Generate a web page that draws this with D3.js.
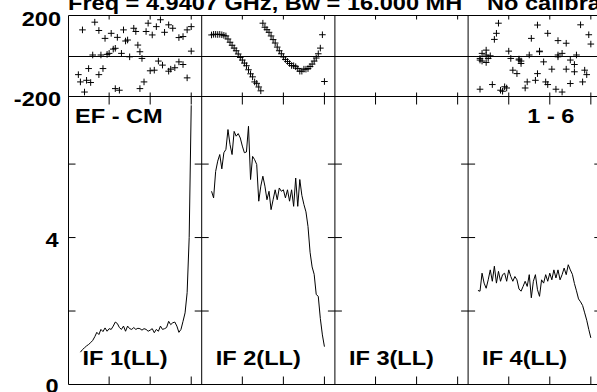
<!DOCTYPE html>
<html><head><meta charset="utf-8">
<script src="https://cdn.jsdelivr.net/npm/d3@7"></script>
<style>html,body{margin:0;padding:0;background:#fff;overflow:hidden}</style>
</head><body><svg id="c" width="597" height="392"></svg>
<script>
// ---------------- data ----------------
const titleText = "Freq = 4.9407 GHz, Bw = 16.000 MH";
const titleText2 = "No calibra";
const panelLabels = ["IF 1(LL)", "IF 2(LL)", "IF 3(LL)", "IF 4(LL)"];
const sourceLabel = "EF - CM";
const baselineLabel = "1 - 6";
const phaseTickValues = [200, -200];
const ampTickLabelValues = [4, 0];
const xTicks = [20, 40, 60];
const ampTicks = [2, 4, 6];

// amplitude spectra (channel start + values)
const amp1Start = 6;
const amp1 = [0.88,0.95,1.0,1.05,1.09,1.14,1.2,1.3,1.42,1.36,1.5,1.44,1.54,1.45,1.52,1.5,1.59,1.7,1.66,1.55,
  1.5,1.59,1.45,1.59,1.52,1.5,1.55,1.5,1.53,1.52,1.48,1.52,1.5,1.45,1.48,1.52,1.41,1.5,1.45,1.59,
  1.5,1.52,1.55,1.72,1.63,1.68,1.7,1.59,1.42,1.5,1.72,1.95,2.5,4.0,7.6];
const amp2Start = 5;
const amp2 = [5.26,5.08,5.8,6.08,6.26,5.87,6.31,6.4,6.94,6.53,6.26,6.89,6.76,6.83,6.71,6.49,6.31,6.33,7.03,5.58,
  6.21,6.12,5.99,4.99,5.4,5.67,5.4,5.03,5.26,4.76,5.03,5.3,5.03,5.35,5.26,5.3,5.08,5.3,4.99,5.3,
  4.85,5.62,4.85,5.58,5.15,4.9,4.7,4.3,3.6,3.2,3.0,2.45,2.4,1.8,1.35,1.03];
const amp3Start = 1;
const amp3 = [];
const amp4Start = 5;
const amp4 = [2.56,2.54,3.03,2.76,2.62,2.85,3.12,2.81,3.22,2.76,3.08,2.81,2.99,3.03,2.81,3.12,2.94,2.81,2.94,2.85,
  2.6,2.54,2.67,2.81,2.67,2.99,2.36,2.81,2.99,2.58,2.4,2.85,2.76,2.99,2.81,3.03,2.85,3.12,2.9,3.12,
  2.85,2.99,3.17,2.99,3.26,3.12,3.0,2.75,2.55,2.33,2.25,2.15,1.95,1.75,1.5,1.27];

// phase points: channels and phases (deg)
const ph1Ch = [7,13,15,18,21,24,27,29,28,32,33,34,38,39,41,43,45,47,49,51,54,56,58,60,60,
  12,16,19,20,22,23,26,30,35,36,5,6,9,11,10,15,17,8,23,25,35,37,40,42,44,46,49,50,52,54,56,58];
const ph1Val = [129,167,126,87,112,92,129,79,74,137,121,54,121,162,104,145,179,117,154,137,91,96,129,145,24,
  5,5,8,13,34,38,13,-4,21,-12,-92,-128,-120,-131,-62,-92,-62,-178,-161,-169,-161,-128,-73,-70,-25,-45,-75,-65,-58,-29,-42,-108];
const ph2Ch = [5,6,7,8,9,10,11,12,13,14,15,16,17,18,19,20,21,22,23,24,25,26,27,28,29,
  30,31,32,33,34,35,36,37,38,39,40,41,42,43,44,45,46,47,48,49,50,51,52,53,54,55,56,57,58,59,60];
const ph2Val = [104,107,107,106,107,105,102,99,84,68,53,39,26,10,-7,-20,-35,-48,-68,-88,-103,-128,-135,-153,-172,
  162,142,130,117,99,81,64,44,26,11,-5,-17,-27,-37,-47,-48,-53,-62,-75,-75,-65,-65,-62,-52,-40,-25,-10,11,39,105,-126];
const ph3Ch = [];
const ph3Val = [];
const ph4Ch = [15,14,13,9,7,6,7,9,10,11,20,21,25,26,26,22,24,30,31,34,35,37,39,41,44,44,46,48,48,50,52,52,53,55,57,58,59,60,
  56,50,46,43,39,38,34,33,29,28,19,17,16,12,6,6,9,25,35,44,18];
const ph4Val = [162,112,82,29,13,-12,-25,-32,-12,1,24,-12,-15,-25,-37,-70,-87,5,87,153,24,-29,112,-65,76,-4,13,63,-65,-20,-42,-78,5,154,-70,-92,105,59,
  -128,-136,-178,-164,-141,-128,-87,-120,-128,-158,-158,-174,-169,-141,-164,-20,5,-20,21,5,-152];

// ---------------- drawing ----------------
const svg = d3.select("#c");
const left = 68.5, pw = 133.2, phTop = 15.5, mid = 96.5, bottom = 384.5, W = 597;
const nP = 4;
const xs = d3.range(nP).map(i => d3.scaleLinear().domain([0.2, 65.1]).range([left + i * pw, left + (i + 1) * pw]));
const yPh = d3.scaleLinear().domain([-200, 200]).range([mid, phTop]);
const yAmp = d3.scaleLinear().domain([0, 7.84]).range([bottom, mid]);

const amps = [[amp1Start, amp1], [amp2Start, amp2], [amp3Start, amp3], [amp4Start, amp4]];
const phs = [[ph1Ch, ph1Val], [ph2Ch, ph2Val], [ph3Ch, ph3Val], [ph4Ch, ph4Val]];

const g = svg.append("g");

// frame lines
g.append("line").attr("x1", left).attr("x2", W).attr("y1", phTop).attr("y2", phTop).attr("stroke", "#000");
g.append("line").attr("x1", left).attr("x2", W).attr("y1", mid).attr("y2", mid).attr("stroke", "#000");
g.append("line").attr("x1", left).attr("x2", W).attr("y1", bottom).attr("y2", bottom).attr("stroke", "#000");
const zy = Math.floor(yPh(0)) + 0.5;
g.append("line").attr("x1", left).attr("x2", W).attr("y1", zy).attr("y2", zy).attr("stroke", "#000");
g.append("line").attr("x1", left).attr("x2", left).attr("y1", phTop).attr("y2", bottom).attr("stroke", "#000");
for (let i = 1; i <= nP; i++) {
  const x = left + i * pw;
  g.append("line").attr("x1", x).attr("x2", x).attr("y1", phTop).attr("y2", bottom).attr("stroke", "#000");
}

// ticks
for (let i = 0; i < nP; i++) {
  const x = xs[i];
  xTicks.forEach(t => {
    const px = x(t);
    g.append("line").attr("x1", px).attr("x2", px).attr("y1", phTop).attr("y2", phTop + 4).attr("stroke", "#000");
    g.append("line").attr("x1", px).attr("x2", px).attr("y1", mid - 4).attr("y2", mid + 8).attr("stroke", "#000");
    g.append("line").attr("x1", px).attr("x2", px).attr("y1", bottom - 8).attr("y2", bottom).attr("stroke", "#000");
  });
  const [x0, x1] = x.range();
  ampTicks.forEach(t => {
    const py = yAmp(t);
    g.append("line").attr("x1", x0).attr("x2", x0 + 7).attr("y1", py).attr("y2", py).attr("stroke", "#000");
    g.append("line").attr("x1", x1 - 7).attr("x2", x1).attr("y1", py).attr("y2", py).attr("stroke", "#000");
  });
}

// amplitude lines
amps.forEach(([start, vals], i) => {
  if (!vals.length) return;
  const line = d3.line().x((d, j) => xs[i](start + j)).y(d => yAmp(d));
  g.append("path").datum(vals).attr("d", line).attr("fill", "none").attr("stroke", "#000").attr("stroke-width", 1);
});

// phase markers
const arm = 3.3;
phs.forEach(([chs, vals], i) => {
  chs.forEach((c, j) => {
    const px = xs[i](c), py = yPh(vals[j]);
    g.append("path").attr("d", `M${px - arm},${py}H${px + arm}M${px},${py - arm}V${py + arm}`)
      .attr("stroke", "#000").attr("stroke-width", 1).attr("fill", "none");
  });
});

// text
function label(x, y, txt, anchor) {
  svg.append("text")
    .attr("transform", `translate(${x},${y}) scale(1.15,1)`)
    .attr("text-anchor", anchor || "start")
    .attr("font-family", "'Liberation Sans', Arial, sans-serif")
    .attr("font-weight", "bold")
    .attr("font-size", 20.5)
    .attr("fill", "#000")
    .text(txt);
}
label(68, 10, titleText);
label(487, 10, titleText2);
label(61, yPh(phaseTickValues[0]) + 10.5, String(phaseTickValues[0]), "end");
label(61, yPh(phaseTickValues[1]) + 9.5, String(phaseTickValues[1]), "end");
label(58.5, yAmp(ampTickLabelValues[0]) + 9, String(ampTickLabelValues[0]), "end");
label(58.5, yAmp(ampTickLabelValues[1]) + 8, String(ampTickLabelValues[1]), "end");
label(75, 123.3, sourceLabel);
label(527.3, 123.3, baselineLabel);
panelLabels.forEach((t, i) => label(xs[i].range()[0] + 14, 365, t));
</script></body></html>
